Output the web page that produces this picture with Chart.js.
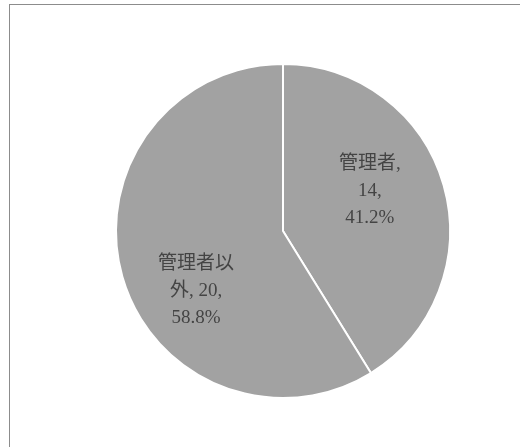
<!DOCTYPE html>
<html>
<head>
<meta charset="utf-8">
<script src="https://cdn.jsdelivr.net/npm/chart.js@4"></script>
<style>
  html, body { margin: 0; padding: 0; background: #fff; }
  #wrap { position: relative; width: 520px; height: 447px; overflow: hidden; }
  #frame { position: absolute; left: 9px; top: 4px; width: 600px; height: 600px;
           border-top: 1px solid #8c8c8c; border-left: 1px solid #8c8c8c; }
  canvas { position: absolute; left: 0; top: 0; }
</style>
</head>
<body>
<div id="wrap">
  <div id="frame"></div>
  <canvas id="c" width="520" height="447"></canvas>
</div>
<script>
// Respondents by role
const categories = ['管理者', '管理者以外'];
const counts = [14, 20];

const total = counts.reduce((a, b) => a + b, 0);
const percents = counts.map(v => (v / total * 100).toFixed(1) + '%');

// Wrap a label: CJK characters may break anywhere, Latin runs break at spaces
function wrapText(ctx, text, maxWidth) {
  const tokens = text.match(/[\u3000-\u9fff]|[^\s\u3000-\u9fff]+|\s+/g) || [];
  const lines = [];
  let line = '';
  for (const tok of tokens) {
    const test = line + tok;
    if (line.trim() !== '' && ctx.measureText(test.trimEnd()).width > maxWidth && tok.trim() !== '') {
      lines.push(line.trimEnd());
      line = tok;
    } else {
      line = test;
    }
  }
  if (line.trim() !== '') lines.push(line.trimEnd());
  return lines;
}

// Data labels "category, value, percent" placed inside each slice
const sliceLabels = {
  id: 'sliceLabels',
  afterDatasetsDraw(chart, args, opts) {
    const ctx = chart.ctx;
    const meta = chart.getDatasetMeta(0);
    ctx.save();
    ctx.font = opts.font;
    ctx.fillStyle = opts.color;
    ctx.textAlign = 'center';
    ctx.textBaseline = 'middle';
    meta.data.forEach((arc, i) => {
      const mid = (arc.startAngle + arc.endAngle) / 2 + opts.angleShift;
      const r = arc.outerRadius * opts.distance;
      const cx = arc.x + Math.cos(mid) * r;
      const cy = arc.y + Math.sin(mid) * r + opts.yOffset;
      const text = categories[i] + ', ' + counts[i] + ', ' + percents[i];
      const lines = wrapText(ctx, text, opts.wrapWidths[i]);
      const top = cy - (lines.length - 1) * opts.lineHeight / 2;
      lines.forEach((ln, k) => ctx.fillText(ln, cx, top + k * opts.lineHeight));
    });
    ctx.restore();
  }
};

new Chart(document.getElementById('c'), {
  type: 'pie',
  data: {
    labels: categories,
    datasets: [{
      data: counts,
      backgroundColor: ['#a2a2a2', '#a2a2a2'],
      borderColor: '#ffffff',
      borderWidth: 2,
      radius: 167
    }]
  },
  options: {
    responsive: false,
    animation: false,
    layout: { padding: { left: 116, right: 70, top: 64, bottom: 49 } },
    plugins: {
      legend: { display: false },
      tooltip: { enabled: false },
      sliceLabels: {
        font: '19px "Liberation Serif", "Noto Sans CJK JP", serif',
        color: '#444444',
        lineHeight: 27,
        distance: 0.6,
        angleShift: -14 * Math.PI / 180,
        yOffset: 10,
        wrapWidths: [68, 84]
      }
    }
  },
  plugins: [sliceLabels]
});
</script>
</body>
</html>
